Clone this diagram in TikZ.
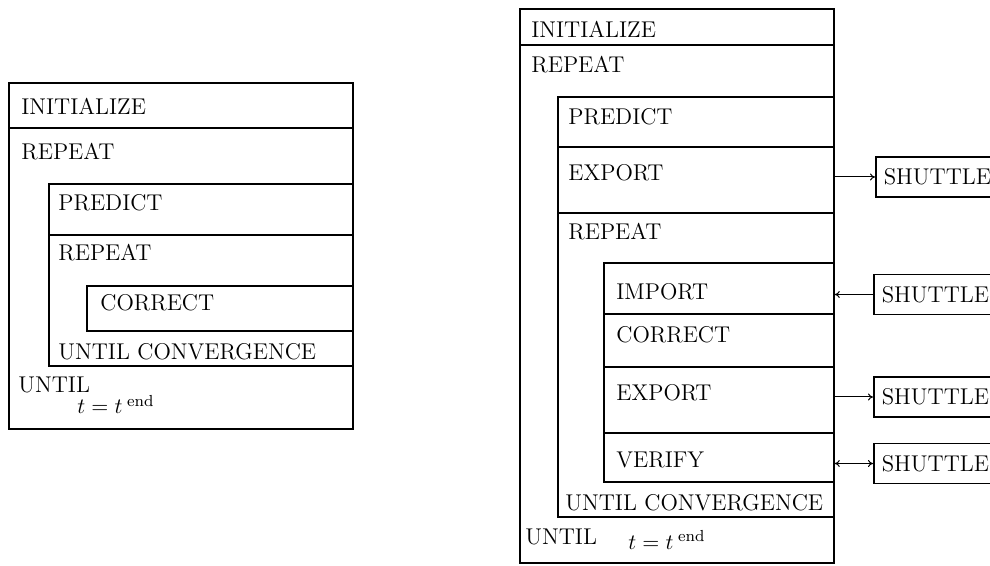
\documentclass[tikz,border=0pt]{standalone}
\usetikzlibrary{fit,arrows.meta}
\begin{document}
\begin{tikzpicture}[x=0.5pt,y=-0.5pt,
  blk/.style={draw, line width=0.8pt, inner sep=0pt},
  lbl/.style={anchor=west, inner sep=0pt, font=\fontsize{11.4}{13}\selectfont},
  mlbl/.style={anchor=base west, inner sep=0pt, font=\fontsize{11.4}{13}\selectfont},
  shuttle/.style={draw, line width=0.8pt, anchor=west, inner xsep=4pt, inner ysep=0pt,
    text width=60pt, align=left, minimum height=20pt, font=\fontsize{11.4}{13}\selectfont},
  arr/.style={line width=0.5pt, -{To[length=2.5pt,width=3.5pt]}},
  darr/.style={line width=0.5pt, {To[length=2.5pt,width=3.5pt]}-{To[length=2.5pt,width=3.5pt]}}]
\useasboundingbox (0,0) rectangle (990,566);
% ---------- left diagram ----------
\node[blk, fit={(9,83) (353,429)}] (Louter) {};
\node[blk, fit={(9,83) (353,128)}] (Linit) {};
\node[blk, fit={(49,184) (353,366)}] (Linner) {};
\node[blk, fit={(49,184) (353,235)}] (Lpred) {};
\node[blk, fit={(87,286) (353,331)}] (Lcorr) {};
\node[lbl] (tLinit) at (21,106) {INITIALIZE};
\node[lbl] (tLrep) at (21,152) {REPEAT};
\node[lbl] (tLpred) at (58,203) {PREDICT};
\node[lbl] (tLrep2) at (58,253) {REPEAT};
\node[lbl] (tLcorr) at (100,303) {CORRECT};
\node[lbl] (tLconv) at (58,352) {UNTIL CONVERGENCE};
\node[lbl] (tLuntil) at (18,385) {UNTIL};
\node[mlbl] (tLend) at (77,414) {$t=t^{\;\mathrm{end}}$};
% ---------- right diagram ----------
\node[blk, fit={(520,9) (834,563)}] (Router) {};
\node[blk, fit={(520,9) (834,45)}] (Rinit) {};
\node[blk, fit={(558,97) (834,517)}] (Rinner) {};
\node[blk, fit={(558,97) (834,147)}] (Rpred) {};
\node[blk, fit={(558,147) (834,213)}] (Rexp1) {};
\node[blk, fit={(604,263) (834,482)}] (Rinner2) {};
\node[blk, fit={(604,263) (834,314)}] (Rimp) {};
\node[blk, fit={(604,314) (834,367)}] (Rcorr) {};
\node[blk, fit={(604,367) (834,433)}] (Rexp2) {};
\node[blk, fit={(604,433) (834,482)}] (Rver) {};
\node[lbl] (tRinit) at (531,29) {INITIALIZE};
\node[lbl] (tRrep) at (531,65) {REPEAT};
\node[lbl] (tRpred) at (568,117) {PREDICT};
\node[lbl] (tRexp1) at (568,173) {EXPORT};
\node[lbl] (tRrep2) at (568,232) {REPEAT};
\node[lbl] (tRimp) at (616,292) {IMPORT};
\node[lbl] (tRcorr) at (616,335) {CORRECT};
\node[lbl] (tRexp2) at (616,393) {EXPORT};
\node[lbl] (tRver) at (616,460) {VERIFY};
\node[lbl] (tRconv) at (565,503) {UNTIL CONVERGENCE};
\node[lbl] (tRuntil) at (525,537) {UNTIL};
\node[mlbl] (tRend) at (628,549) {$t=t^{\;\mathrm{end}}$};
% ---------- shuttles ----------
\node[shuttle] (S1) at (875,177) {SHUTTLE};
\node[shuttle] (S2) at (873,294.5) {SHUTTLE};
\node[shuttle] (S3) at (873,397) {SHUTTLE};
\node[shuttle] (S4) at (873,463.5) {SHUTTLE};
\draw[arr] (Rexp1.east |- S1.west) -- (S1.west);
\draw[arr] (S2.west) -- (Rimp.east |- S2.west);
\draw[arr] (Rexp2.east |- S3.west) -- (S3.west);
\draw[darr] (Rver.east |- S4.west) -- (S4.west);
\end{tikzpicture}
\end{document}
